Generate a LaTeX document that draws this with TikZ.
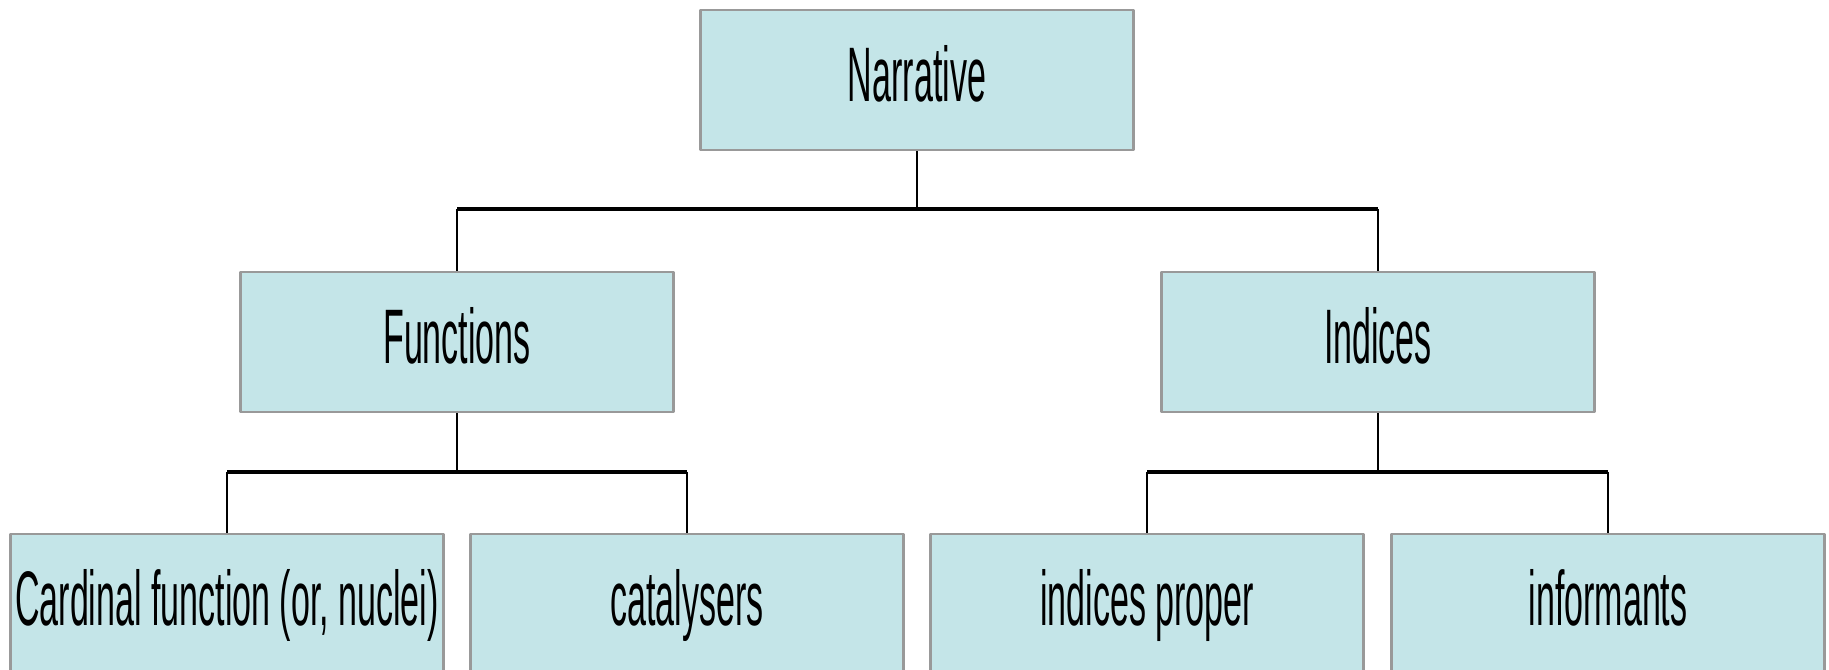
\documentclass[tikz,border=0pt]{standalone}
\usepackage{fontspec}
\setmainfont[FakeStretch=0.44]{Liberation Sans}
\definecolor{boxfill}{HTML}{C4E5E8}
\definecolor{boxline}{HTML}{999999}
\begin{document}
\begin{tikzpicture}[line join=round,
	box/.style={draw=boxline,fill=boxfill,line width=0.8pt,minimum width=4.33cm,minimum height=1.40cm,inner sep=0pt,text height=0.53cm,text depth=0.11cm,font=\fontsize{22}{26}\selectfont},
	stem/.style={line width=0.5pt},
	bar/.style={line width=1pt}]
	\useasboundingbox (0,0) rectangle (18.29,-6.69);
	\node[box] (nar) at (9.17,-0.80) {Narrative};
	\node[box] (fun) at (4.57,-3.42) {Functions};
	\node[box] (ind) at (13.78,-3.42) {Indices};
	\node[box] (car) at (2.27,-6.04) {Cardinal function (or, nuclei)};
	\node[box] (cat) at (6.87,-6.04) {catalysers};
	\node[box] (inp) at (11.47,-6.04) {indices proper};
	\node[box] (inf) at (16.08,-6.04) {informants};
	\coordinate (bar1) at (0,-2.09);
	\coordinate (bar2) at (0,-4.72);
	% top level
	\draw[stem] (nar.south) -- (nar.south |- bar1);
	\draw[bar] (fun.north |- bar1) -- (ind.north |- bar1);
	\foreach \n in {fun,ind}{\draw[stem] (\n.north |- bar1) -- (\n.north);}
	% second level
	\draw[stem] (fun.south) -- (fun.south |- bar2);
	\draw[stem] (ind.south) -- (ind.south |- bar2);
	\draw[bar] (car.north |- bar2) -- (cat.north |- bar2);
	\draw[bar] (inp.north |- bar2) -- (inf.north |- bar2);
	\foreach \n in {car,cat,inp,inf}{\draw[stem] (\n.north |- bar2) -- (\n.north);}
\end{tikzpicture}
\end{document}
